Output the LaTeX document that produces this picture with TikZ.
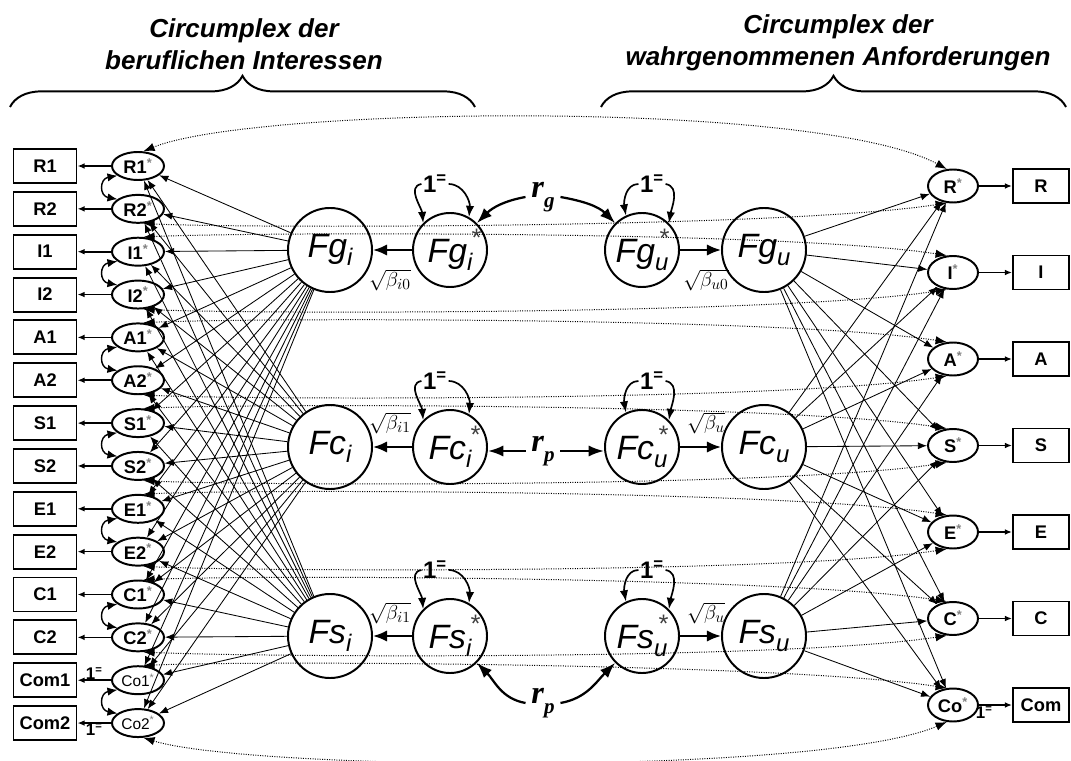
\documentclass[tikz,border=0pt]{standalone}
\usepackage{fontspec}
\setmainfont{Liberation Sans}
\newfontfamily\rfont{Liberation Serif}
\usepackage{amsmath}
\usetikzlibrary{shapes.geometric,decorations.pathreplacing,arrows.meta}

\newcommand{\lat}[1]{#1\textsuperscript{\color{gray}*}}
\newcommand{\flab}[2]{#1\raisebox{-6pt}{\fontsize{17}{17}\selectfont #2}}
\newcommand{\flabs}[2]{#1\rlap{\hspace{2.5pt}\raisebox{11pt}{\fontsize{18}{18}\selectfont\color{darkgray}*}}\raisebox{-6pt}{\fontsize{17}{17}\selectfont #2}}
\newcommand{\rlab}[1]{r\raisebox{-7pt}{\fontsize{15}{15}\selectfont #1}}
\newcommand{\onef}{1\textsuperscript{=}}

\begin{document}
\begin{tikzpicture}[
x=0.025cm, y=-0.025cm,
>={Latex[length=6.5pt,width=5pt]},
obs/.style={draw, line width=1.4pt, minimum width=1.575cm, minimum height=0.85cm, inner sep=0pt, font=\bfseries\fontsize{13}{13}\selectfont},
obsr/.style={obs, minimum width=1.4cm},
res/.style={draw, ellipse, line width=1.4pt, minimum width=1.3cm, minimum height=0.7cm, inner sep=0pt, font=\bfseries\fontsize{13}{13}\selectfont},
resr/.style={res, minimum width=1.25cm, minimum height=0.825cm},
fac/.style={draw, circle, line width=1.4pt, minimum size=2.1cm, inner sep=0pt, font=\itshape\fontsize{24}{24}\selectfont},
facs/.style={fac, minimum size=1.85cm},
load/.style={->, line width=0.6pt},
toobs/.style={-{Latex[length=5pt,width=4pt]}, line width=1.2pt},
corr/.style={{Latex[length=7pt,width=6pt]}-{Latex[length=7pt,width=6pt]}, line width=1pt},
cov/.style={{Latex[length=8pt,width=6pt]}-{Latex[length=8pt,width=6pt]}, densely dotted, line width=0.7pt},
struc/.style={-{Latex[length=10pt,width=8pt]}, line width=1.4pt},
loopy/.style={-{Latex[length=8pt,width=6pt]}, line width=1.2pt},
rarr/.style={-{Latex[length=11pt,width=8pt]}, line width=1.6pt},
onelg/.style={inner sep=1pt, font=\bfseries\fontsize{17}{17}\selectfont},
onesm/.style={inner sep=1pt, font=\bfseries\fontsize{12}{12}\selectfont},
rnode/.style={inner sep=4pt, font=\rfont\bfseries\itshape\fontsize{23}{23}\selectfont},
blab/.style={inner sep=0pt, font=\fontsize{15}{15}\selectfont},
head/.style={align=center, font=\bfseries\itshape\fontsize{18.5}{23}\selectfont},
curly/.style={decorate, decoration={brace, amplitude=0.78cm}, line width=1.4pt}
]
\useasboundingbox (0,0) rectangle (1071,761);

% headings
\node[head] (hl) at (244,44) {Circumplex der\\beruflichen Interessen};
\node[head] (hr) at (838,43) {Circumplex der\\wahrgenommenen Anforderungen};
\draw[curly] (10,107) -- (475,107);
\draw[curly] (601,107) -- (1066,107);

% interest items
\foreach \ob/\lv [count=\k] in {R1/R1,R2/R2,I1/I1,I2/I2,A1/A1,A2/A2,S1/S1,S2/S2,E1/E1,E2/E2,C1/C1,C2/C2,Com1/{\mdseries\fontsize{11}{11}\selectfont Co1},Com2/{\mdseries\fontsize{11}{11}\selectfont Co2}}
{
    \node[obs] (b\k) at (45,{166+(\k-1)*42.85}) {\ob};
    \node[res] (l\k) at (138,{166+(\k-1)*42.85}) {\lat{\lv}};
    \draw[toobs] (l\k) -- (b\k);
}
\foreach \k in {1,3,...,13}
{
    \pgfmathtruncatemacro\kk{\k+1}
    \draw[corr] (l\k.205) to[out=190,in=170,looseness=2] (l\kk.155);
}
\path (l13) -- node[above=-1pt, onesm] {\onef} (b13);
\path (l14) -- node[below=-1pt, onesm] {\onef} (b14);

% demand items
\foreach \ob/\lv [count=\k] in {R/R,I/I,A/A,S/S,E/E,C/C,Com/Co}
{
    \node[resr] (L\k) at (953,{186+(\k-1)*86.5}) {\lat{\lv}};
    \node[obsr] (B\k) at (1041,{186+(\k-1)*86.5}) {\ob};
    \draw[toobs] (L\k) -- (B\k);
}
\path (L7) -- node[below=0pt, xshift=-8pt, onesm] {\onef} (B7);

% factors
\foreach \fn/\y [count=\m] in {g/250,c/447,s/636}
{
    \node[fac] (Fi\m) at (330,\y) {\flab{F\fn}{i}};
    \node[facs] (Fis\m) at (450,\y) {\flabs{F\fn}{i}};
    \node[facs] (Fus\m) at (642,\y) {\flabs{F\fn}{u}};
    \node[fac] (Fu\m) at (764,\y) {\flab{F\fn}{u}};
    \draw[struc] (Fis\m) -- (Fi\m);
    \draw[struc] (Fus\m) -- (Fu\m);
    \node[onelg] (oi\m) at (435,{\y-66}) {\onef};
    \node[onelg] (ou\m) at (652,{\y-66}) {\onef};
    \draw[loopy] (oi\m.west) to[out=190,in=95] (Fis\m.135);
    \draw[loopy] (oi\m.east) to[out=0,in=85] (Fis\m.60);
    \draw[loopy] (ou\m.west) to[out=180,in=100] (Fus\m.115);
    \draw[loopy] (ou\m.east) to[out=-10,in=80] (Fus\m.45);
}
\foreach \m/\yb/\bi/\bu in {1/280/i0/u0,2/423/i1/u,3/613/i1/u}
{
    \node[blab] (betai\m) at (390,\yb) {$\sqrt{\beta_{\bi}}$};
    \node[blab] (betau\m) at (706,\yb) {$\sqrt{\beta_{\bu}}$};
}

% correlations
\node[rnode] (rg) at (543,197) {\rlab{g}};
\node[rnode] (rp) at (543,451) {\rlab{p}};
\node[rnode] (rs) at (543,703) {\rlab{p}};
\draw[rarr] (rg.west) to[out=190,in=45] (Fis1.45);
\draw[rarr] (rg.east) to[out=-10,in=135] (Fus1.135);
\draw[rarr] (rp.west) -- (rp.west -| Fis2.east);
\draw[rarr] (rp.east) -- (rp.east -| Fus2.west);
\draw[rarr] (rs.west) to[out=170,in=-45] (Fis3.-45);
\draw[rarr] (rs.east) to[out=10,in=-135] (Fus3.-135);

% loadings
\foreach \m in {1,2,3}
{
    \foreach \k in {1,...,14}
        \draw[load] (Fi\m) -- (l\k);
    \foreach \k in {1,...,7}
        \draw[load] (Fu\m) -- (L\k);
}

% residual covariances
\draw[cov] (l1.70) .. controls +(110,-45) and +(-130,-70) .. (L1.110);
\draw[cov] (l14.-70) .. controls +(107,33) and +(-126,54) .. (L7.-110);
\foreach \k in {1,...,6}
{
    \pgfmathtruncatemacro\ka{2*\k}
    \pgfmathtruncatemacro\kb{2*\k+1}
    \pgfmathtruncatemacro\kc{\k+1}
    \draw[cov] (l\ka.-70) .. controls +(110,5) and +(-160,25) .. (L\k.-110);
    \draw[cov] (l\kb.70) .. controls +(110,-5) and +(-160,-25) .. (L\kc.110);
}
\end{tikzpicture}
\end{document}
